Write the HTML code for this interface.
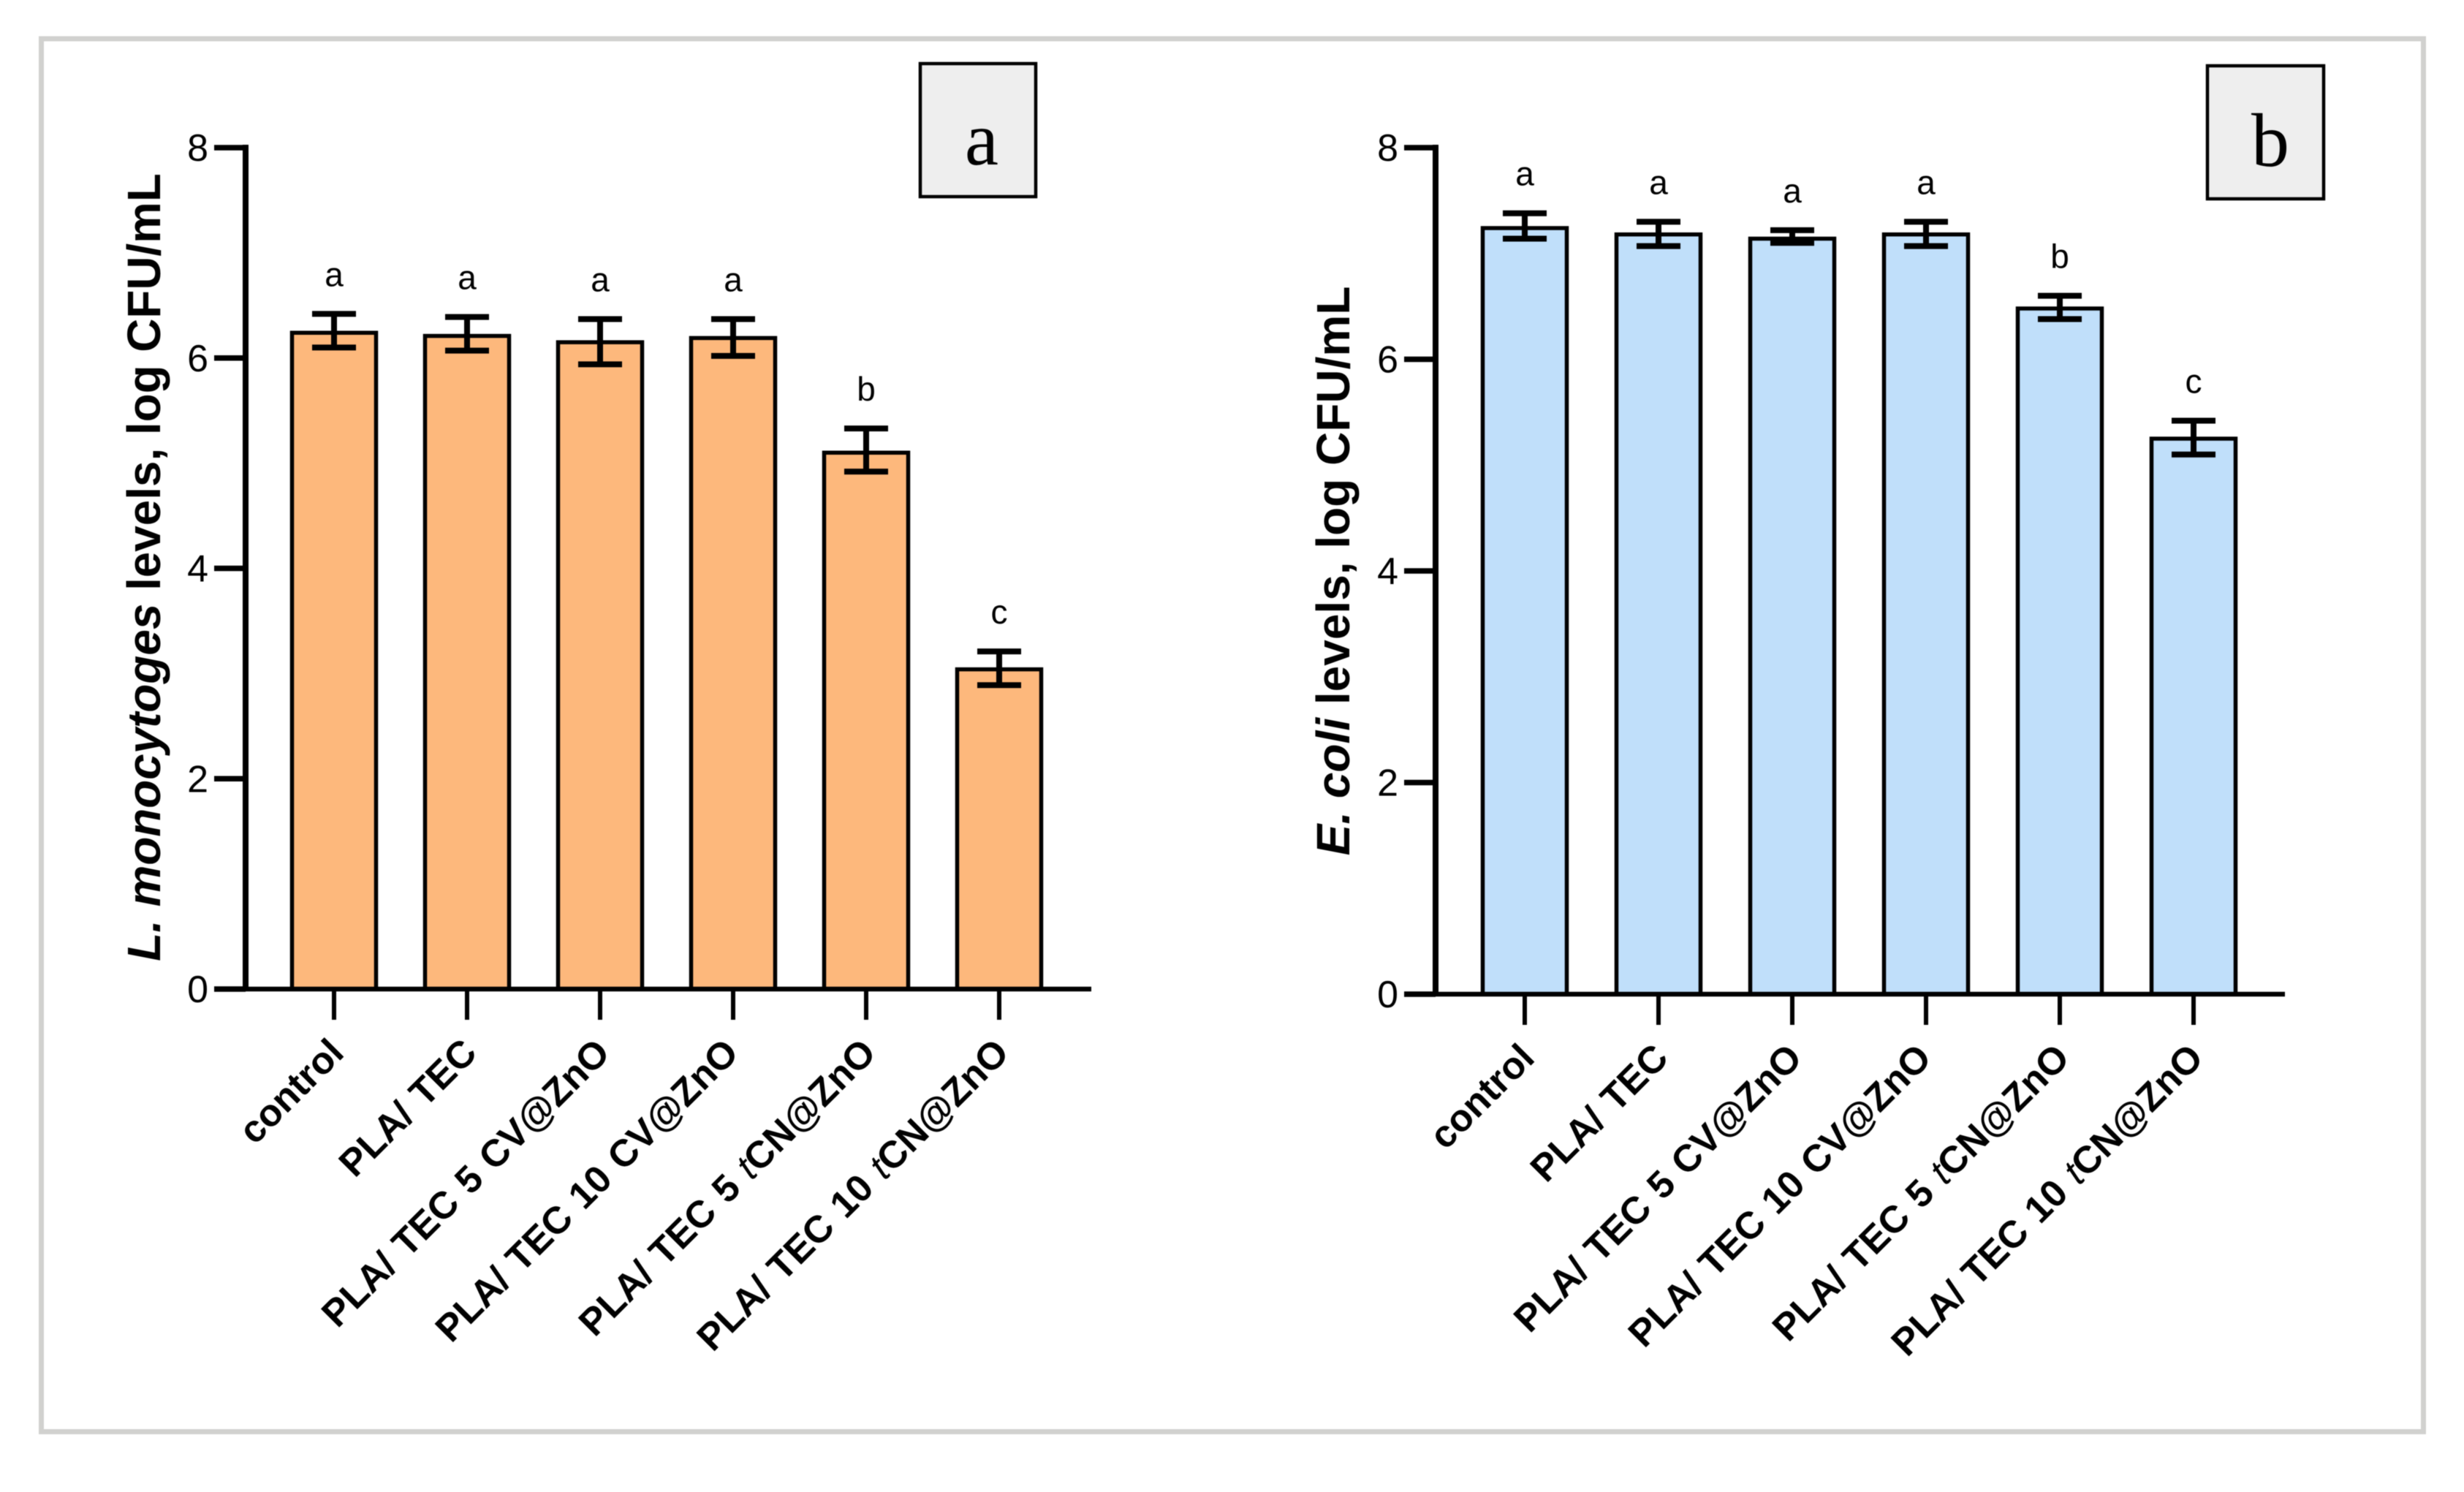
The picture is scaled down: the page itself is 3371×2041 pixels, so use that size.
<!DOCTYPE html>
<html lang="en">
<head>
<meta charset="utf-8">
<title>Bacterial levels by film type</title>
<style>
html,body{margin:0;padding:0;background:#fff;width:3371px;height:2041px;overflow:hidden}
svg{display:block;font-family:"Liberation Sans",Arial,sans-serif;filter:blur(0.6px)}
</style>
</head>
<body>
<svg id="chart" xmlns="http://www.w3.org/2000/svg" width="3371" height="2041" viewBox="0 0 3371 2041">
  <rect x="56.5" y="53" width="3259" height="1905.5" fill="#fff" stroke="#d1d1cf" stroke-width="7"/>
</svg>
<script>
var categories = ['control', 'PLA/ TEC', 'PLA/ TEC 5 CV@ZnO', 'PLA/ TEC 10 CV@ZnO', 'PLA/ TEC 5 tCN@ZnO', 'PLA/ TEC 10 tCN@ZnO'];
var yTicks = [0, 2, 4, 6, 8];
var listeriaValues = [6.24, 6.21, 6.15, 6.19, 5.10, 3.04];
var listeriaUpper = [6.42, 6.39, 6.37, 6.37, 5.33, 3.21];
var listeriaLower = [6.10, 6.07, 5.94, 6.02, 4.92, 2.89];
var listeriaLetters = ['a', 'a', 'a', 'a', 'b', 'c'];
var coliValues = [7.24, 7.18, 7.14, 7.18, 6.48, 5.25];
var coliUpper = [7.38, 7.30, 7.22, 7.30, 6.60, 5.42];
var coliLower = [7.14, 7.07, 7.10, 7.07, 6.38, 5.10];
var coliLetters = ['a', 'a', 'a', 'a', 'b', 'c'];

var NS = 'http://www.w3.org/2000/svg';
var root = document.getElementById('chart');

function make(parent, tag) {
  var el = document.createElementNS(NS, tag);
  parent.appendChild(el);
  return el;
}
function line(parent, x1, y1, x2, y2, w) {
  var el = make(parent, 'line');
  el.setAttribute('x1', x1);
  el.setAttribute('y1', y1);
  el.setAttribute('x2', x2);
  el.setAttribute('y2', y2);
  el.setAttribute('stroke', '#000');
  el.setAttribute('stroke-width', w);
  return el;
}

function drawPanel(p) {
  var g = make(root, 'g');
  
  

  function yScale(v) { return p.y0 - (v / 8) * (p.y0 - p.y8); }
  function xScale(i) { return p.x0 + i * p.step; }

  // value bars
  p.values.forEach(function (v, i) {
    var bar = make(g, 'rect');
    
    
    bar.setAttribute('x', xScale(i) - p.barW / 2);
    bar.setAttribute('y', yScale(v));
    bar.setAttribute('width', p.barW);
    bar.setAttribute('height', p.y0 - yScale(v));
    bar.setAttribute('fill', p.color);
    bar.setAttribute('stroke', '#000');
    bar.setAttribute('stroke-width', 5.5);
  });

  // error bars
  p.values.forEach(function (v, i) {
    var eg = make(g, 'g');
    
    
    var x = xScale(i);
    var yu = yScale(p.upper[i]);
    var yl = yScale(p.lower[i]);
    line(eg, x, yu, x, yl, 8);
    line(eg, x - 30, yu, x + 30, yu, 8);
    line(eg, x - 30, yl, x + 30, yl, 8);
  });

  // significance letters
  p.letters.forEach(function (s, i) {
    var t = make(g, 'text');
    
    
    t.setAttribute('x', xScale(i));
    t.setAttribute('y', yScale(p.upper[i]) - 38);
    t.setAttribute('text-anchor', 'middle');
    t.setAttribute('font-size', 46);
    t.textContent = s;
  });

  // y axis
  var ya = line(g, p.axisX, p.y8 - 4, p.axisX, p.y0 + 3, 8);
  
  
  yTicks.forEach(function (v) {
    var tk = line(g, p.axisX - 43, yScale(v), p.axisX, yScale(v), 7.5);
    
    
    var lb = make(g, 'text');
    
    
    lb.setAttribute('x', p.axisX - 51);
    lb.setAttribute('y', yScale(v) + 18);
    lb.setAttribute('text-anchor', 'end');
    lb.setAttribute('font-size', 52);
    lb.textContent = String(v);
  });

  // x axis
  var xa = line(g, p.axisX - 43, p.y0, p.xEnd, p.y0, 6.5);
  
  
  categories.forEach(function (c, i) {
    var x = xScale(i);
    var tk = line(g, x, p.y0, x, p.y0 + 42, 6);
    
    
    var lb = make(g, 'text');
    
    
    lb.setAttribute('text-anchor', 'end');
    lb.setAttribute('font-size', 52);
    lb.setAttribute('font-weight', 'bold');
    lb.setAttribute('word-spacing', 3);
    var nudge = i === 3 ? -6 : 0;
    lb.setAttribute('transform', 'translate(' + (x + 16 + nudge) + ',' + (p.y0 + 90) + ') rotate(-45)');
    var parts = c.split('tCN');
    if (parts.length === 2) {
      var a = make(lb, 'tspan');
      a.textContent = parts[0];
      var it = make(lb, 'tspan');
      it.setAttribute('font-style', 'italic');
      it.setAttribute('font-weight', 'normal');
      it.textContent = 't';
      var b = make(lb, 'tspan');
      b.textContent = 'CN' + parts[1];
    } else {
      lb.textContent = c;
    }
  });

  // y axis title
  var title = make(g, 'text');
  
  
  title.setAttribute('text-anchor', 'middle');
  title.setAttribute('font-size', p.titleSize);
  title.setAttribute('font-weight', 'bold');
  title.setAttribute('transform', 'translate(' + p.titleX + ',' + p.titleY + ') rotate(-90)');
  var ti = make(title, 'tspan');
  ti.setAttribute('font-style', 'italic');
  ti.textContent = p.titleItalic;
  var tr = make(title, 'tspan');
  tr.textContent = p.titleRest;

  // panel letter box
  var box = make(g, 'rect');
  
  
  box.setAttribute('x', p.box[0]);
  box.setAttribute('y', p.box[1]);
  box.setAttribute('width', p.box[2]);
  box.setAttribute('height', p.box[3]);
  box.setAttribute('fill', '#eeeeee');
  box.setAttribute('stroke', '#000');
  box.setAttribute('stroke-width', 4.5);
  var bl = make(g, 'text');
  
  
  bl.setAttribute('x', p.boxLetter[0]);
  bl.setAttribute('y', p.boxLetter[1]);
  bl.setAttribute('text-anchor', 'middle');
  bl.setAttribute('font-size', 104);
  bl.setAttribute('font-family', '"Liberation Serif", serif');
  bl.textContent = p.key;
}

drawPanel({
  name: 'listeria-panel', key: 'a',
  values: listeriaValues, upper: listeriaUpper, lower: listeriaLower, letters: listeriaLetters,
  color: '#fdb87c', x0: 457, step: 182, barW: 115, axisX: 336, xEnd: 1493, y0: 1353, y8: 202,
  titleItalic: 'L. monocytoges', titleRest: ' levels, log CFU/mL', titleX: 219, titleY: 776, titleSize: 63.8,
  box: [1259, 87, 158, 182], boxLetter: [1343, 225]
});
drawPanel({
  name: 'ecoli-panel', key: 'b',
  values: coliValues, upper: coliUpper, lower: coliLower, letters: coliLetters,
  color: '#c0dffa', x0: 2086, step: 183, barW: 115, axisX: 1964, xEnd: 3126, y0: 1360, y8: 202,
  titleItalic: 'E. coli', titleRest: ' levels, log CFU/mL', titleX: 1846, titleY: 781, titleSize: 64,
  box: [3020, 90, 159, 182], boxLetter: [3106, 227]
});
</script>
</body>
</html>
